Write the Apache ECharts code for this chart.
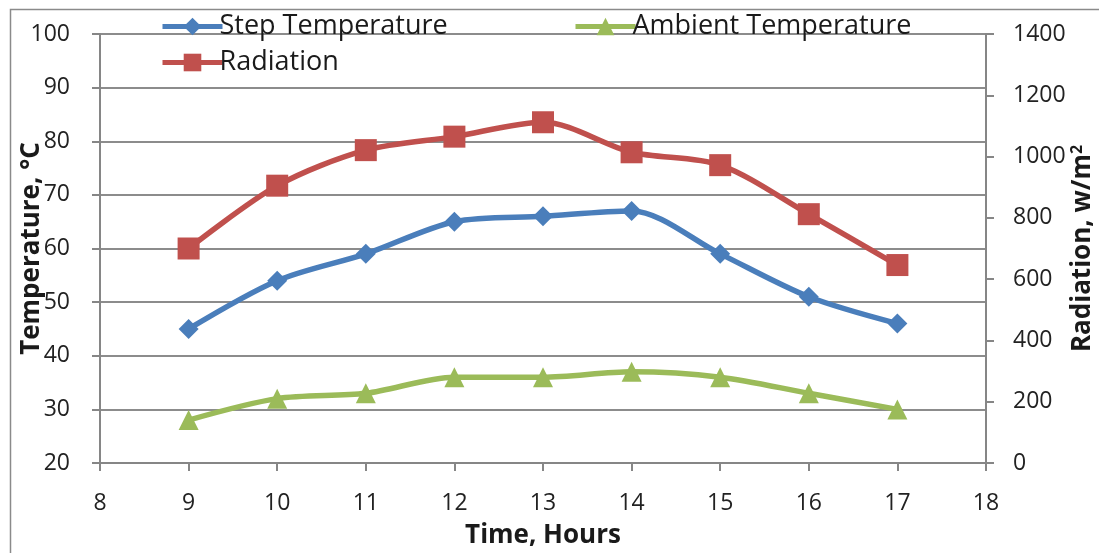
<!DOCTYPE html>
<html><head><meta charset="utf-8">
<script src="https://cdn.jsdelivr.net/npm/echarts@6/dist/echarts.min.js"></script>
<style>html,body{margin:0;padding:0;background:#fff}#c{width:1099px;height:553px}</style>
</head><body><div id="c"></div>
<script>
const hours = [9, 10, 11, 12, 13, 14, 15, 16, 17];
const stepTemp = [45, 54, 59, 65, 66, 67, 59, 51, 46];
const ambientTemp = [28, 32, 33, 36, 36, 37, 36, 33, 30];
const radiation = [700, 905, 1021, 1065, 1112, 1014, 972, 812, 646];

const FONT = 'Open Sans';
const AX = '#868686';
const TXT = '#1a1a1a';
const pair = (xs, ys) => xs.map((x, i) => [x, ys[i]]);
const legendBase = {
  itemWidth: 60, itemHeight: 22, itemGap: 0,
  lineStyle: { width: 5 },
  textStyle: { fontFamily: FONT, fontSize: 27, color: TXT, padding: [0, 0, 0, -8] }
};

const chart = echarts.init(document.getElementById('c'));
chart.setOption({
  animation: false,
  backgroundColor: '#fff',
  textStyle: { fontFamily: FONT },
  graphic: [{ type: 'rect', left: 8, top: 7, shape: { width: 1100, height: 560 }, style: { fill: 'none', stroke: '#8a8a8a', lineWidth: 1.5 }, z: -1 }],
  legend: [
    Object.assign({ data: ['Step Temperature'], left: 155, top: 8 }, legendBase),
    Object.assign({ data: ['Ambient Temperature'], left: 568, top: 8 }, legendBase),
    Object.assign({ data: ['Radiation'], left: 155, top: 44 }, legendBase)
  ],
  grid: { left: 100, right: 113, top: 34, bottom: 90, containLabel: false, outerBoundsMode: 'none' },
  xAxis: {
    type: 'value', min: 8, max: 18, interval: 1,
    name: 'Time, Hours', nameLocation: 'middle', nameGap: 60, nameMoveOverlap: false,
    nameTextStyle: { fontFamily: FONT, fontSize: 26, fontWeight: 'bold', color: TXT },
    axisLine: { lineStyle: { color: AX, width: 2 } },
    axisTick: { show: true, length: 8, lineStyle: { color: AX, width: 2 } },
    axisLabel: { fontFamily: FONT, fontSize: 23, color: '#222', margin: 29 },
    splitLine: { show: false }
  },
  yAxis: [
    {
      type: 'value', min: 20, max: 100, interval: 10, position: 'left',
      name: 'Temperature, °C', nameLocation: 'middle', nameGap: 55, nameRotate: 90, nameMoveOverlap: false,
      nameTextStyle: { fontFamily: FONT, fontSize: 26, fontWeight: 'bold', color: TXT },
      axisLine: { show: true, lineStyle: { color: AX, width: 2 } },
      axisTick: { show: true, length: 8, lineStyle: { color: AX, width: 2 } },
      axisLabel: { fontFamily: FONT, fontSize: 23, color: '#222', margin: 30 },
      splitLine: { show: true, lineStyle: { color: '#8c8c8c', width: 2 } }
    },
    {
      type: 'value', min: 0, max: 1400, interval: 200, position: 'right',
      name: 'Radiation, w/m{sup|2}', nameLocation: 'middle', nameGap: 83, nameRotate: 90, nameMoveOverlap: false,
      nameTextStyle: { fontFamily: FONT, fontSize: 26, fontWeight: 'bold', color: TXT,
        rich: { sup: { fontFamily: FONT, fontSize: 16, fontWeight: 'bold', color: TXT, verticalAlign: 'top', padding: [0, 0, 12, 0] } } },
      axisLine: { show: true, lineStyle: { color: AX, width: 2 } },
      axisTick: { show: true, length: 8, lineStyle: { color: AX, width: 2 } },
      axisLabel: { fontFamily: FONT, fontSize: 23, color: '#222', margin: 27, formatter: v => String(v) },
      splitLine: { show: false }
    }
  ],
  series: [
    { name: 'Step Temperature', type: 'line', yAxisIndex: 0, data: pair(hours, stepTemp), smooth: 0.3,
      symbol: 'diamond', symbolSize: 20, lineStyle: { color: '#4A7EBB', width: 5.5 }, itemStyle: { color: '#4A7EBB' } },
    { name: 'Ambient Temperature', type: 'line', yAxisIndex: 0, data: pair(hours, ambientTemp), smooth: 0.3,
      symbol: 'triangle', symbolSize: 20, lineStyle: { color: '#9BBB59', width: 5.5 }, itemStyle: { color: '#9BBB59' } },
    { name: 'Radiation', type: 'line', yAxisIndex: 1, data: pair(hours, radiation), smooth: 0.3,
      symbol: 'rect', symbolSize: 22, lineStyle: { color: '#C0504D', width: 5.5 }, itemStyle: { color: '#C0504D' } }
  ]
});
</script></body></html>
